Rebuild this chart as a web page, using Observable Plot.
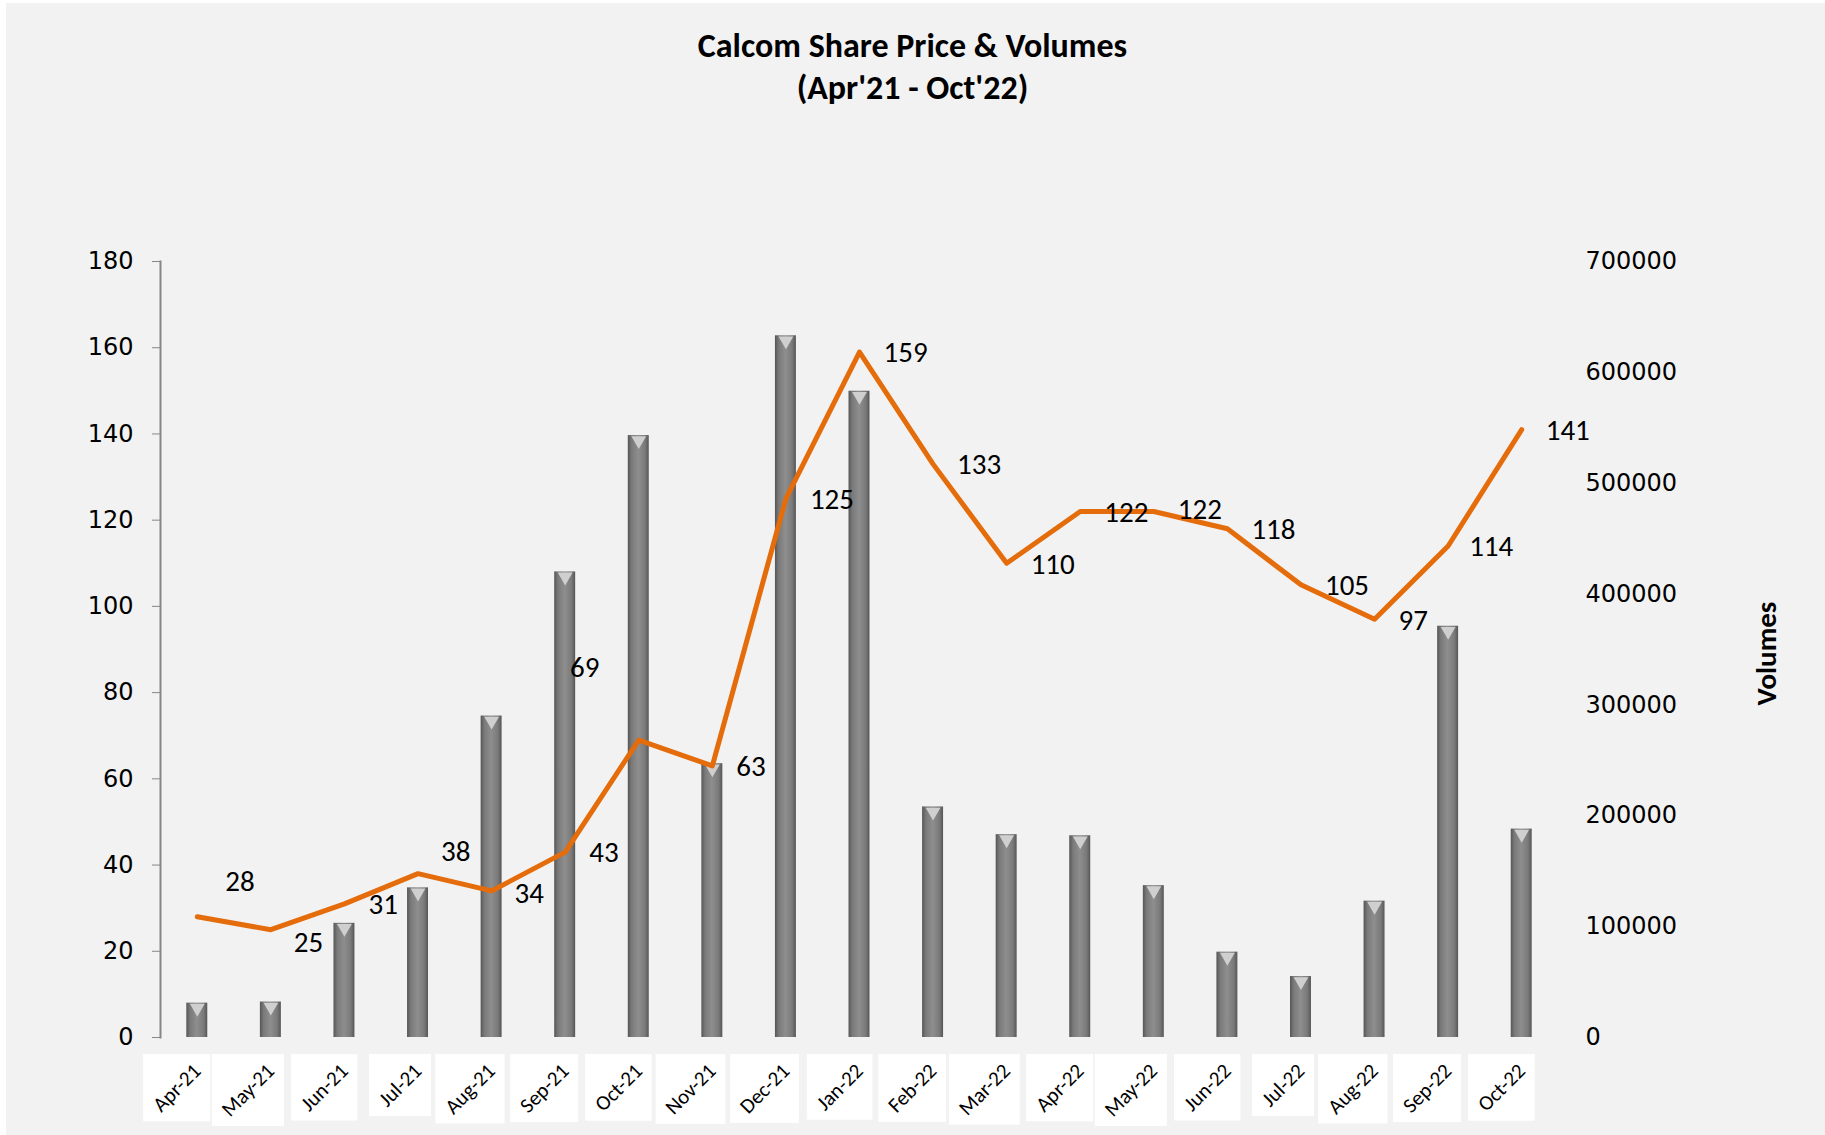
<!DOCTYPE html>
<html>
<head>
<meta charset="utf-8">
<script src="https://cdn.jsdelivr.net/npm/d3@7"></script>
<script src="https://cdn.jsdelivr.net/npm/@observablehq/plot@0.6"></script>
<style>
  html, body { margin: 0; padding: 0; background: #f2f2f2; width: 1825px; height: 1135px; overflow: hidden; }
  #edgeTop { position: absolute; left: 0; top: 0; width: 1825px; height: 3px; background: #fff; }
  #edgeLeft { position: absolute; left: 0; top: 0; width: 6px; height: 1135px; background: #fff; }
  #title { height: 140px; box-sizing: border-box; padding-top: 25px; text-align: center;
           font-family: Carlito, Calibri, Lato, sans-serif; font-weight: bold; font-size: 34px; line-height: 42px; color: #000; }
  #chart svg { display: block; overflow: visible; }
</style>
</head>
<body>
<div id="edgeTop"></div><div id="edgeLeft"></div>
<div id="title">Calcom Share Price &amp; Volumes<br>(Apr'21 - Oct'22)</div>
<div id="chart"></div>
<script>
const months = ["Apr-21","May-21","Jun-21","Jul-21","Aug-21","Sep-21","Oct-21","Nov-21","Dec-21","Jan-22",
                "Feb-22","Mar-22","Apr-22","May-22","Jun-22","Jul-22","Aug-22","Sep-22","Oct-22"];
const price = [28,25,31,38,34,43,69,63,125,159,133,110,122,122,118,105,97,114,141];
const volume = [31000,32000,103000,135000,290000,420000,543000,247000,633000,583000,
                208000,183000,182000,137000,77000,55000,123000,371000,188000];
const priceTicks = [0,20,40,60,80,100,120,140,160,180];
const volumeTicks = [0,100000,200000,300000,400000,500000,600000,700000];

const k = 180 / 700000; // volume -> price-axis units
const data = months.map((m, i) => ({month: m, price: price[i], volume: volume[i]}));

// label placement nudges (px): [dx, dy, anchor]
const nudge = {
  "Apr-21": [28, -35, "start"], "May-21": [23, 13, "start"], "Jul-21": [23, -22, "start"],
  "Aug-21": [23, 3, "start"], "Oct-21": [-54, -72, "middle"], "May-22": [24, -2, "start"],
  "Sep-22": [21, 1, "start"]
};
const labelFont = "Carlito, Calibri, Lato, sans-serif";

const labelMarks = data.map(d => {
  const [dx, dy, anchor] = nudge[d.month] || [24, 1, "start"];
  return Plot.text([d], {x: "month", y: "price", text: r => String(r.price), textAnchor: anchor,
    dx, dy, fontSize: 29, fill: "#000", fontFamily: labelFont});
});

const plot = Plot.plot({
  width: 1825,
  height: 995,
  marginTop: 121,
  marginBottom: 98,
  marginLeft: 160,
  marginRight: 267,
  style: {background: "transparent", color: "#000", overflow: "visible"},
  x: {type: "band", domain: months, paddingInner: 0.715, paddingOuter: 0.3575, round: false},
  y: {domain: [0, 180]},
  marks: [
    Plot.barY(data, {x: "month", y: d => d.volume * k, fill: "url(#barGrad)"}),
    Plot.dot(data, {x: "month", y: d => d.volume * k, symbol: "triangle", rotate: 180, r: 5.5,
      fill: "#cfcfcf", dy: 5}),
    Plot.line(data, {x: "month", y: "price", stroke: "#e46c0a", strokeWidth: 5, strokeLinejoin: "round"}),
    ...labelMarks,
    Plot.frame({anchor: "left", stroke: "#868686", strokeWidth: 2}),
    Plot.axisY({anchor: "left", ticks: priceTicks, tickSize: 8, tickPadding: 19, fontSize: 24,
      stroke: "#868686", label: null}),
    Plot.axisY({anchor: "right", ticks: volumeTicks.map(v => v * k), tickFormat: d => String(Math.round(d / k)),
      tickSize: 0, tickPadding: 27, textAnchor: "start", fontSize: 24, label: null}),
    Plot.axisX({tickRotate: -45, tickSize: 0, tickPadding: 30, fontSize: 21, label: null}),
    Plot.text(["Volumes"], {frameAnchor: "right", rotate: -90, dx: 208, dy: 4, text: d => d,
      fontSize: 29, fontWeight: "bold", fontFamily: labelFont, textAnchor: "middle"})
  ]
});

document.getElementById("chart").appendChild(plot);

// gradient for bars
const svg = d3.select(plot);
const defs = svg.insert("defs", ":first-child");
const g = defs.append("linearGradient").attr("id", "barGrad").attr("x1", "0").attr("x2", "1").attr("y1", "0").attr("y2", "0");
[["0%", "#565656"], ["18%", "#7a7a7a"], ["50%", "#8e8e8e"], ["82%", "#7a7a7a"], ["100%", "#565656"]]
  .forEach(([o, c]) => g.append("stop").attr("offset", o).attr("stop-color", c));

// fonts for axes
svg.selectAll('g[aria-label="y-axis tick label"]').attr("font-family", "DejaVu Sans, sans-serif");
const xl = svg.select('g[aria-label="x-axis tick label"]').attr("font-family", labelFont);

// white boxes behind x tick labels
const sb = plot.getBoundingClientRect();
const boxG = svg.insert("g", 'g[aria-label="x-axis tick label"]');
xl.selectAll("text").each(function() {
  const b = this.getBoundingClientRect();
  boxG.append("rect")
    .attr("x", b.left - sb.left - 4).attr("y", b.top - sb.top - 4)
    .attr("width", b.width + 8).attr("height", b.height + 8)
    .attr("fill", "#fff");
});
</script>
</body>
</html>
